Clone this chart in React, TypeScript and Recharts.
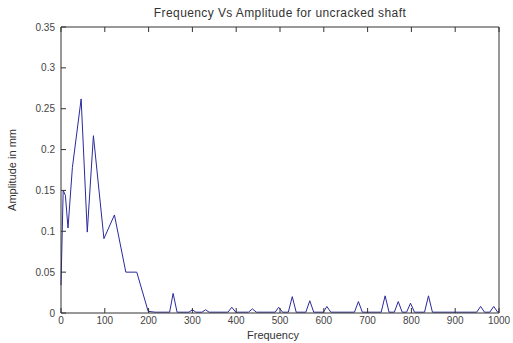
import React from "react";
import { LineChart, Line, XAxis, YAxis } from "recharts";

// spectrum
const freq = [
  0, 5, 10, 16, 26, 46, 60, 74, 98, 122, 148, 173, 199, 215, 240, 248, 256, 265,
  292, 300, 308, 322, 330, 338, 381, 390, 399, 428, 437, 446, 489, 497, 506, 519,
  528, 537, 559, 568, 577, 599, 607, 616, 670, 679, 688, 731, 740, 749, 761, 770,
  779, 789, 798, 807, 830, 839, 848, 949, 958, 967, 979, 988, 997, 1000,
];
const amp = [
  0.034, 0.15, 0.144, 0.104, 0.178, 0.262, 0.099, 0.217, 0.091, 0.12, 0.05, 0.05,
  0.002, 0.001, 0.001, 0.001, 0.024, 0.001, 0.001, 0.004, 0.001, 0.001, 0.004,
  0.001, 0.001, 0.007, 0.001, 0.001, 0.005, 0.001, 0.001, 0.007, 0.001, 0.001,
  0.02, 0.001, 0.001, 0.015, 0.001, 0.001, 0.008, 0.001, 0.001, 0.014, 0.001,
  0.001, 0.021, 0.001, 0.001, 0.014, 0.001, 0.001, 0.012, 0.001, 0.001, 0.021,
  0.001, 0.001, 0.008, 0.001, 0.001, 0.008, 0.001, 0.002,
];
const xTicks = [0, 100, 200, 300, 400, 500, 600, 700, 800, 900, 1000];
const yTicks = [0, 0.05, 0.1, 0.15, 0.2, 0.25, 0.3, 0.35];
const yLabels = ["0", "0.05", "0.1", "0.15", "0.2", "0.25", "0.3", "0.35"];

const data = freq.map((f, i) => ({ f, a: amp[i] }));

const font = '"Liberation Sans", Arial, sans-serif';
const axisColor = "#333";
const tickStyle = { fill: "#444", fontSize: 10, fontFamily: font };
const noLabel = () => <g />;

export default function App() {
  return (
    <div
      style={{
        position: "absolute",
        left: 0,
        top: 0,
        width: 513,
        height: 343,
        background: "#fff",
        fontFamily: font,
      }}
    >
      <LineChart
        width={513}
        height={343}
        data={data}
        margin={{ top: 26, right: 13, left: 0, bottom: 0 }}
      >
        <XAxis
          dataKey="f"
          type="number"
          domain={[0, 1000]}
          ticks={xTicks}
          interval={0}
          height={30}
          tickSize={-5}
          tickMargin={9}
          stroke={axisColor}
          tick={tickStyle}
        />
        <XAxis
          xAxisId="top"
          orientation="top"
          dataKey="f"
          type="number"
          domain={[0, 1000]}
          ticks={xTicks}
          interval={0}
          height={1}
          tickSize={-5}
          stroke={axisColor}
          tick={noLabel}
        />
        <YAxis
          type="number"
          domain={[0, 0.35]}
          ticks={yTicks}
          interval={0}
          width={61}
          tickSize={-5}
          tickMargin={11}
          stroke={axisColor}
          tick={tickStyle}
          tickFormatter={(v: number) => yLabels[yTicks.indexOf(v)] ?? String(v)}
        />
        <YAxis
          yAxisId="right"
          orientation="right"
          type="number"
          domain={[0, 0.35]}
          ticks={yTicks}
          interval={0}
          width={1}
          tickSize={-5}
          stroke={axisColor}
          tick={noLabel}
        />
        <Line
          type="linear"
          dataKey="a"
          stroke="#2a2a9c"
          strokeWidth={1}
          dot={false}
          isAnimationActive={false}
        />
      </LineChart>
      <div
        style={{
          position: "absolute",
          left: 0,
          width: 560,
          top: 6,
          textAlign: "center",
          fontSize: 12,
          color: "#333",
          letterSpacing: 0.4,
        }}
      >
        Frequency Vs Amplitude for uncracked shaft
      </div>
      <div
        style={{
          position: "absolute",
          left: 0,
          width: 546,
          top: 329,
          textAlign: "center",
          fontSize: 11,
          color: "#333",
        }}
      >
        Frequency
      </div>
      <div
        style={{
          position: "absolute",
          left: 12,
          top: 170,
          fontSize: 11,
          color: "#333",
          whiteSpace: "nowrap",
          transform: "translate(-50%, -50%) rotate(-90deg)",
        }}
      >
        Amplitude in mm
      </div>
    </div>
  );
}
